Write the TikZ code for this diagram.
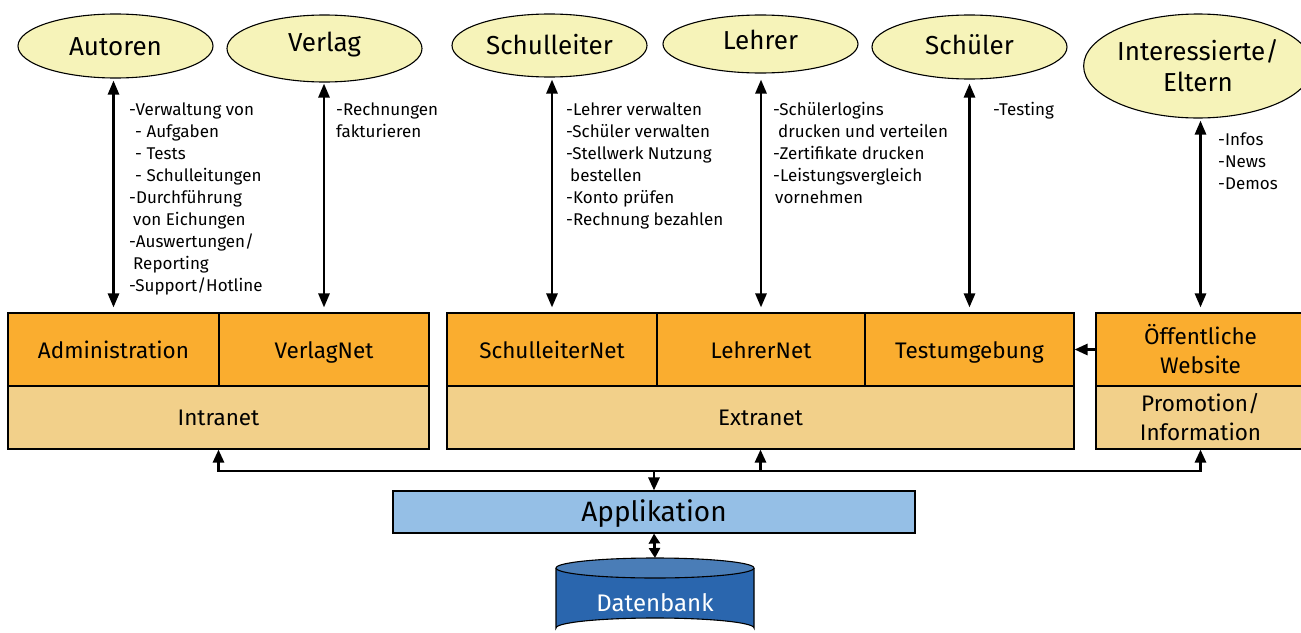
\documentclass[tikz,border=0pt]{standalone}
\usepackage{fontspec}
\setmainfont{Fira Sans}
\usetikzlibrary{shapes.geometric,arrows.meta}
\definecolor{ellfill}{HTML}{F6F3B9}
\definecolor{orangefill}{HTML}{FAAD2F}
\definecolor{tanfill}{HTML}{F2D08A}
\definecolor{appfill}{HTML}{95BFE6}
\definecolor{dbbody}{HTML}{2A66AE}
\definecolor{dbtopc}{HTML}{4A7DB7}
\tikzset{
  ell/.style={ellipse, draw=black, line width=1.1pt, fill=ellfill, inner sep=0pt,
    minimum width=195pt, minimum height=63pt, font=\fontsize{26}{31}\selectfont, align=center},
  one/.style={text height=18pt, text depth=#1},
  obox/.style={rectangle, draw=black, line width=1.1pt, fill=orangefill, inner sep=0pt,
    minimum height=73pt, font=\fontsize{22.5}{29}\selectfont, align=center},
  tbox/.style={rectangle, draw=black, line width=1.1pt, fill=tanfill, inner sep=0pt,
    minimum height=63pt, font=\fontsize{22.5}{29}\selectfont, align=center},
  sline/.style={text height=20pt, text depth=1.5pt},
  txt/.style={anchor=north west, inner sep=0pt, align=left, font=\fontsize{17}{22}\selectfont},
  arr/.style={line width=2.7pt, -{Triangle[length=13pt,width=11pt]}},
  darr/.style={line width=2.7pt, {Triangle[length=14pt,width=11pt]}-{Triangle[length=14pt,width=11pt]}},
  sdarr/.style={line width=2.7pt, {Triangle[length=10pt,width=11pt]}-{Triangle[length=10pt,width=11pt]}}
}
\begin{document}
\begin{tikzpicture}[x=1pt,y=-1pt]
\useasboundingbox (0,0) rectangle (1301,632);

% actors
\node[ell, one=0pt, minimum height=64pt] (autoren) at (115.5,46) {Autoren};
\node[ell, one=13pt, minimum height=67pt] (verlag) at (324.5,48.5) {Verlag};
\node[ell, one=1pt] (schulleiter) at (549.5,45.5) {Schulleiter};
\node[ell, one=8pt, minimum height=58pt] (lehrer) at (760.5,44) {Lehrer};
\node[ell, one=4pt, minimum height=64pt] (schueler) at (969.5,47) {Schüler};
\node[ell, minimum width=216pt, minimum height=104pt] (interess) at (1198,66) {Interessierte/\\Eltern};

% top row
\node[obox, sline, minimum width=211pt] (admin) at (113.5,349.5) {Administration};
\node[obox, sline, minimum width=210pt] (verlagnet) at (324,349.5) {VerlagNet};
\node[obox, sline, minimum width=210pt] (schulnet) at (552,349.5) {SchulleiterNet};
\node[obox, sline, minimum width=208pt] (lehrernet) at (761,349.5) {LehrerNet};
\node[obox, sline, minimum width=209pt] (testum) at (969.5,349.5) {Testumgebung};
\node[obox, minimum width=209pt] (website) at (1200.5,349.5) {Öffentliche\\Website};

% second row
\node[tbox, text height=18pt, text depth=1.5pt, minimum width=421pt] (intranet) at (218.5,417.5) {Intranet};
\node[tbox, text height=18pt, text depth=1.5pt, minimum width=627pt] (extranet) at (760.5,417.5) {Extranet};
\node[tbox, minimum width=209pt] (promo) at (1200.5,417.5) {Promotion/\\Information};

% application
\node[rectangle, draw=black, line width=1.1pt, fill=appfill, minimum width=522pt,
  minimum height=42pt, inner sep=0pt, text height=20pt, text depth=0.7pt,
  font=\fontsize{28}{30}\selectfont] (app) at (654,512) {Applikation};

% database cylinder
\fill[dbbody] (556,568) -- (556,628) arc[start angle=180, end angle=360, x radius=99, y radius=10] -- (754,568) -- cycle;
\draw[line width=1.1pt] (556,568) -- (556,628) arc[start angle=180, end angle=360, x radius=99, y radius=10] -- (754,568);
\draw[line width=1.1pt, fill=dbtopc] (655,568) ellipse [x radius=99, y radius=10];
\node[text=white, inner sep=0pt, font=\fontsize{24}{26}\selectfont] (db) at (655,603) {Datenbank};
\coordinate (dbtop) at (655,558);

% text blocks
\node[txt] (tautoren) at (129,102.5) {-Verwaltung von\\
\hspace{6pt}- Aufgaben\\
\hspace{6pt}- Tests\\
\hspace{6pt}- Schulleitungen\\
-Durchführung\\
\hspace{4pt}von Eichungen\\
-Auswertungen/\\
\hspace{4pt}Reporting\\
-Support/Hotline};
\node[txt] (tverlag) at (336,102.5) {-Rechnungen\\fakturieren};
\node[txt] (tschulleiter) at (566,102.5) {-Lehrer verwalten\\
-Schüler verwalten\\
-Stellwerk Nutzung\\
\hspace{4pt}bestellen\\
-Konto prüfen\\
-Rechnung bezahlen};
\node[txt] (tlehrer) at (773,102.5) {-Schülerlogins\\
\hspace{5pt}drucken und verteilen\\
-Zertifikate drucken\\
-Leistungsvergleich\\
\hspace{2pt}vornehmen};
\node[txt] (tschueler) at (993,102.5) {-Testing};
\node[txt] (tinteress) at (1218,132.5) {-Infos\\-News\\-Demos};

% vertical double arrows
\draw[darr, shorten <=2pt, shorten >=5pt] (admin.north |- autoren.south) -- (admin.north);
\draw[darr, shorten <=1pt, shorten >=5pt] (verlagnet.north |- verlag.south) -- (verlagnet.north);
\draw[darr, shorten <=2pt, shorten >=5pt] (schulnet.north |- schulleiter.south) -- (schulnet.north);
\draw[darr, shorten <=6pt, shorten >=5pt] (lehrernet.north |- lehrer.south) -- (lehrernet.north);
\draw[darr, shorten <=4pt, shorten >=5pt] (testum.north |- schueler.south) -- (testum.north);
\draw[darr, shorten <=2pt, shorten >=5pt] (website.north |- interess.south) -- (website.north);

% website to test environment
\draw[arr] (website.west) -- (testum.east);

% bus
\coordinate (bus) at (app.north |- 0,471);
\draw[arr] (bus) -| (intranet.south);
\draw[arr] (bus) -| (extranet.south);
\draw[arr] (bus) -| (promo.south);
\draw[arr] (bus) -- (app.north);
\draw[sdarr] (app.south) -- (dbtop);
\end{tikzpicture}
\end{document}
